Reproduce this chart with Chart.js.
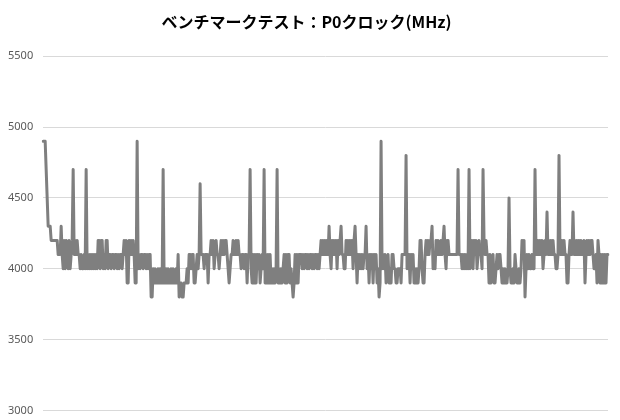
<!DOCTYPE html>
<html>
<head>
<meta charset="utf-8">
<script src="https://cdn.jsdelivr.net/npm/chart.js@4.4.1/dist/chart.umd.min.js"></script>
<style>
html,body{margin:0;padding:0;background:#fff;}
#wrap{width:620px;height:420px;}
</style>
</head>
<body>
<div id="wrap"><canvas id="c" width="620" height="420"></canvas></div>
<script>
const chartTitle = "ベンチマークテスト：P0クロック(MHz)";
const yTicks = [3000, 3500, 4000, 4500, 5000, 5500];
const clockMHz = [
  4900,4900,4900,4700,4500,4300,4300,4300,4200,4200, 4200,4200,4200,4200,4200,4100,4100,4100,4300,4100,
  4000,4200,4000,4200,4100,4000,4200,4000,4100,4200, 4700,4100,4200,4100,4200,4100,4100,4000,4100,4000,
  4000,4100,4000,4700,4000,4100,4000,4100,4000,4100, 4000,4100,4000,4100,4000,4200,4200,4000,4200,4200,
  4000,4100,4000,4200,4200,4000,4100,4100,4000,4100, 4100,4000,4100,4100,4000,4100,4000,4100,4100,4000,
  4100,4200,4100,4200,3900,3900,4200,4100,4200,4100, 4200,4100,3900,3900,4900,4000,4100,4000,4100,4100,
  4000,4100,4100,4000,4100,4000,4100,4100,3800,3800, 4000,3900,4000,3900,3900,4000,3900,4000,3900,3900,
  4700,3900,3900,4000,3900,4000,3900,3900,4000,3900, 4000,3900,3900,4000,3900,4100,3800,3900,3900,3800,
  3800,3900,3900,3900,4000,3900,4100,4100,4000,4100, 4100,3900,3900,4000,4100,4000,4100,4600,4100,4100,
  4100,4000,4100,4100,4100,3900,4100,4100,4200,4100, 4200,4000,4100,4200,4100,4100,4000,4100,4200,4100,
  4200,4100,4200,4200,4100,4000,3900,4000,4100,4100, 4200,4100,4100,4200,4100,4200,4100,4100,4000,4100,
  4100,4000,4100,4100,3900,4100,4100,4700,4000,3900, 4100,3900,4100,3900,4100,4000,4100,3900,4000,4100,
  4000,4700,3900,4100,3900,4100,3900,4100,3900,4000, 3900,4000,3900,4000,4700,3900,4000,3900,4000,3900,
  4000,4100,3900,4100,3900,4100,4100,3900,4000,3900, 3800,3900,4100,3900,4100,3900,4100,4100,4100,4000,
  4100,4000,4100,4100,4000,4100,4000,4100,4100,4000, 4100,4000,4100,4100,4000,4100,4000,4100,4200,4100,
  4200,4100,4200,4100,4200,4100,4300,4100,4000,4200, 4100,4200,4100,4200,4000,4200,4100,4200,4300,4100,
  4100,4000,4000,4200,4100,4200,4100,4200,4100,4200, 4000,4200,4300,4100,3900,4100,4000,4100,4000,4100,
  4000,4100,4100,4300,4000,4100,3900,4100,4000,4100, 3900,4100,4000,4100,3900,4000,3800,3900,4900,4000,
  4100,4000,4100,3900,4000,4100,3900,4000,3900,4100, 4100,4000,4000,3900,3900,4000,4000,4000,3900,4100,
  4100,4100,4100,4800,4000,4100,4100,3900,4100,4000, 4100,3900,4000,3900,4000,3900,4000,4200,4200,4000,
  3900,3900,4100,4200,4100,4200,4100,4200,4200,4300, 4000,4100,4000,4200,4100,4200,4100,4100,4200,4100,
  4200,4300,4100,4000,4200,4200,4100,4100,4100,4100, 4100,4100,4100,4100,4100,4700,4100,4100,4100,4000,
  4100,4000,4100,4000,4100,4000,4700,4000,4100,4200, 4000,4200,4100,4200,4000,4100,4200,4100,4100,4000,
  4700,4200,4100,4200,4100,4100,3900,4100,3900,4000, 4100,3900,3900,4000,4100,4000,4100,4100,4000,3900,
  4000,3900,4000,3900,3900,4000,4500,4000,3900,3900, 4000,3900,4100,4000,3900,3900,4000,3900,4000,4200,
  4100,4200,3800,4000,4100,4000,4100,4000,4000,4100, 4000,4000,4700,4100,4100,4200,4100,4200,4100,4200,
  4000,4100,4200,4100,4400,4100,4200,4100,4200,4100, 4200,4100,4100,4000,4000,4100,4800,4100,4100,4200,
  4100,4200,4100,4100,3900,3900,4100,4200,4100,4100, 4400,4100,4200,4100,4200,4100,4200,4100,4200,4100,
  4100,4200,3900,4100,4200,4100,4200,4100,4200,4200, 4100,4000,4000,4100,3900,4200,4100,3900,4100,3900,
  4100,3900,4100,3900,4100,4100
];
const categories = clockMHz.map((_, i) => String(i + 1));

new Chart(document.getElementById('c'), {
  type: 'line',
  data: {
    labels: categories,
    datasets: [{
      label: 'P0クロック',
      data: clockMHz,
      borderColor: '#7f7f7f',
      borderWidth: 3,
      borderJoinStyle: 'round',
      borderCapStyle: 'round',
      pointRadius: 0,
      tension: 0,
      fill: false
    }]
  },
  options: {
    responsive: false,
    animation: false,
    layout: { padding: { left: 5, right: 12, top: 0, bottom: 0 } },
    plugins: {
      legend: { display: false },
      tooltip: { enabled: false },
      title: {
        display: true,
        text: chartTitle,
        color: '#000000',
        font: { family: '"Noto Sans CJK JP", "Noto Sans", sans-serif', size: 16, weight: 'bold' },
        padding: { top: 12, bottom: 25 }
      }
    },
    scales: {
      x: { display: false, offset: false },
      y: {
        min: 3000,
        max: 5500,
        afterBuildTicks: (s) => { s.ticks = yTicks.map(v => ({ value: v })); },
        border: { display: false },
        grid: { color: '#d9d9d9', lineWidth: 1, drawTicks: true, tickLength: 7, tickColor: 'rgba(0,0,0,0)' },
        ticks: {
          color: '#595959',
          padding: 3,
          font: { family: '"Noto Sans", sans-serif', size: 11 },
          callback: (v) => String(v)
        }
      }
    }
  }
});
</script>
</body>
</html>
